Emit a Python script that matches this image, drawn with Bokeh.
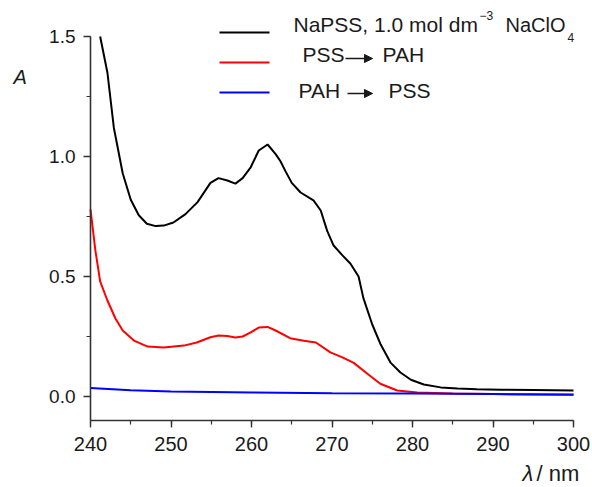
from bokeh.plotting import figure
from bokeh.models import (Range1d, SingleIntervalTicker, PrintfTickFormatter,
                          Label, Arrow, NormalHead)
from bokeh.embed import file_html
from bokeh.resources import INLINE

# ---- data ----
black_x = [241.2, 242.1, 242.9, 244.0, 245.0, 246.0, 247.0, 248.1, 249.1, 250.3,
           251.8, 253.3, 254.9, 255.9, 257.0, 258.0, 258.9, 259.9, 260.9, 262.0,
           263.0, 263.6, 264.2, 265.0, 266.1, 267.7, 268.6, 269.4, 270.2, 271.3,
           272.3, 273.3, 273.9, 275.0, 276.0, 277.3, 278.5, 279.8, 281.4, 283.5,
           285.6, 288.0, 291.0, 295.0, 300.0]
black_y = [1.50, 1.35, 1.12, 0.93, 0.82, 0.755, 0.72, 0.71, 0.712, 0.725,
           0.76, 0.81, 0.89, 0.91, 0.90, 0.887, 0.91, 0.955, 1.025, 1.05,
           1.01, 0.98, 0.94, 0.89, 0.85, 0.817, 0.775, 0.69, 0.629, 0.588,
           0.553, 0.50, 0.41, 0.30, 0.22, 0.14, 0.10, 0.07, 0.05, 0.038,
           0.033, 0.030, 0.028, 0.027, 0.025]

red_x = [240.0, 240.6, 241.2, 242.1, 243.1, 244.0, 245.4, 247.1, 249.1, 251.6,
         253.2, 254.9, 255.9, 257.0, 258.0, 258.9, 259.9, 260.9, 262.0, 263.0,
         264.8, 266.5, 268.0, 269.8, 271.3, 272.7, 274.4, 276.0, 278.1, 280.6,
         285.0, 290.0, 300.0]
red_y = [0.78, 0.61, 0.48, 0.40, 0.325, 0.275, 0.233, 0.208, 0.204, 0.212,
         0.225, 0.247, 0.254, 0.252, 0.246, 0.25, 0.267, 0.287, 0.29, 0.275,
         0.243, 0.232, 0.225, 0.184, 0.163, 0.14, 0.095, 0.053, 0.025, 0.017,
         0.012, 0.010, 0.008]

blue_x = [240, 245, 250, 260, 270, 280, 290, 300]
blue_y = [0.035, 0.026, 0.021, 0.017, 0.014, 0.012, 0.010, 0.007]

x_ticks_interval = 10
y_ticks_interval = 0.5

# ---- layout: the frame covers the whole canvas, axes sit at fixed locations ----
W, H = 592, 487
AXL, AXR, AXB = 90, 573, 420          # pixel positions of x=240, x=300 and y=-0.1
X0, X1 = 240, 300
Y0, YAX = -0.1, 1.5
PPX = (AXR - AXL) / (X1 - X0)
PPY = 240.0

def dx(px):
    return X0 + (px - AXL) / PPX

def dy(py):
    return Y0 + (AXB - py) / PPY

FONT = "Liberation Sans"
TXT = "#1a1a1a"

p = figure(width=W, height=H, output_backend="svg", toolbar_location=None,
           x_range=Range1d(dx(0), dx(W)), y_range=Range1d(dy(H), dy(0)),
           min_border=0)
p.outline_line_color = None
p.xgrid.visible = False
p.ygrid.visible = False
p.background_fill_color = "white"
p.border_fill_color = "white"

for ax in (p.xaxis[0], p.yaxis[0]):
    ax.axis_line_color = "#333333"
    ax.axis_line_width = 1.6
    ax.major_tick_line_color = "#333333"
    ax.minor_tick_line_color = "#333333"
    ax.major_tick_line_width = 1.4
    ax.minor_tick_line_width = 1.2
    ax.major_tick_out = 7
    ax.major_tick_in = 0
    ax.minor_tick_out = 4
    ax.minor_tick_in = 0
    ax.major_label_text_font = FONT
    ax.major_label_text_color = TXT

p.xaxis.fixed_location = Y0
p.yaxis.fixed_location = X0
p.xaxis.bounds = (X0, X1)
p.yaxis.bounds = (Y0, YAX)
p.xaxis.major_label_text_font_size = "20px"
p.yaxis.major_label_text_font_size = "19px"
p.xaxis.ticker = SingleIntervalTicker(interval=x_ticks_interval, num_minor_ticks=2)
p.yaxis.ticker = SingleIntervalTicker(interval=y_ticks_interval, num_minor_ticks=2)
p.yaxis.formatter = PrintfTickFormatter(format="%.1f")
p.xaxis.major_label_standoff = 9
p.yaxis.major_label_standoff = 8

p.line(black_x, black_y, line_color="black", line_width=2)
p.line(red_x, red_y, line_color="#ff0000", line_width=2)
p.line(blue_x, blue_y, line_color="#0000ff", line_width=2)

def lab(txt, x, y, size=21, style="normal"):
    # y is the wanted baseline in pixels; compensate the renderer's baseline offset
    yb = y - 0.38 * size
    p.add_layout(Label(x=dx(x), y=dy(yb), text=txt, text_font=FONT,
                       text_font_size=f"{size}px", text_font_style=style,
                       text_color=TXT, text_align="left",
                       text_baseline="alphabetic"))

# legend swatches
for yy, col in ((32, "black"), (62, "#ff0000"), (92, "#0000ff")):
    p.add_layout(Arrow(end=None, x_start=dx(219), y_start=dy(yy),
                       x_end=dx(269), y_end=dy(yy), line_color=col, line_width=2))

lab("NaPSS, 1.0 mol dm", 293, 32)
lab("\u22123", 479, 20, size=12)
lab("NaClO", 505, 32, size=20)
lab("4", 567, 42, size=12)

head = dict(size=8, fill_color=TXT, line_color=TXT)
lab("PSS", 302, 62)
p.add_layout(Arrow(end=NormalHead(**head),
                   x_start=dx(345), y_start=dy(58), x_end=dx(372), y_end=dy(58),
                   line_color=TXT, line_width=1.5))
lab("PAH", 382, 62)

lab("PAH", 298, 98)
p.add_layout(Arrow(end=NormalHead(**head),
                   x_start=dx(347), y_start=dy(93), x_end=dx(372), y_end=dy(93),
                   line_color=TXT, line_width=1.5))
lab("PSS", 388, 98)

# axis titles
lab("A", 13, 84, size=20, style="italic")
lab("\u03bb", 522, 481, size=22, style="italic")
lab("/ nm", 536, 481, size=22)

open("out.html", "w").write(file_html(p, INLINE))
